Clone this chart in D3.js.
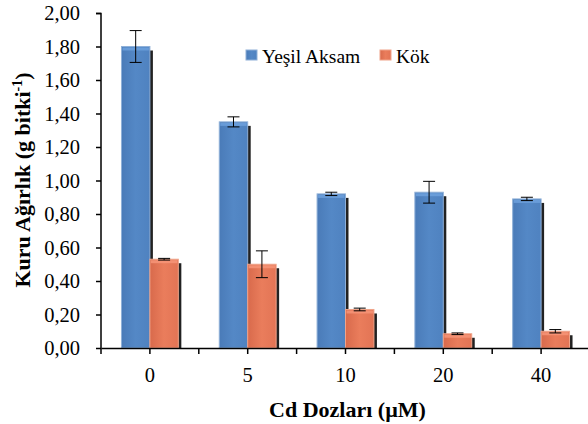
<!DOCTYPE html>
<html>
<head>
<meta charset="utf-8">
<script src="https://cdn.jsdelivr.net/npm/d3@7"></script>
<style>
    body { margin: 0; background: #fff; }
</style>
</head>
<body>
<div id="chart"></div>
<script>
// data
var doses = ["0", "5", "10", "20", "40"];
var seriesNames = ["Yeşil Aksam", "Kök"];
var shootValues = [1.80, 1.35, 0.92, 0.93, 0.89];
var shootErrors = [0.095, 0.03, 0.01, 0.065, 0.01];
var rootValues = [0.53, 0.50, 0.23, 0.085, 0.10];
var rootErrors = [0.005, 0.08, 0.008, 0.005, 0.01];
var yTicks = [0, 0.2, 0.4, 0.6, 0.8, 1.0, 1.2, 1.4, 1.6, 1.8, 2.0];

var svgWidth = 588;
var svgHeight = 424;
var serif = "\"Liberation Serif\"";

var margin = {
    top: 13,
    right: -2,
    bottom: 76,
    left: 101
};

var chartWidth = svgWidth - margin.left - margin.right;
var chartHeight = svgHeight - margin.top - margin.bottom;

var svg = d3.select("#chart")
    .append("svg")
    .attr("width", svgWidth)
    .attr("height", svgHeight);

var defs = svg.append("defs");

function addGradient(id, c1, c2, c3) {
    var g = defs.append("linearGradient")
        .attr("id", id)
        .attr("x1", "0").attr("x2", "1").attr("y1", "0").attr("y2", "0");
    g.append("stop").attr("offset", "0%").attr("stop-color", c1);
    g.append("stop").attr("offset", "50%").attr("stop-color", c2);
    g.append("stop").attr("offset", "100%").attr("stop-color", c3);
}
addGradient("gradBlue", "#4a7bb8", "#5488c6", "#4f82c0");
addGradient("gradOrange", "#d86a4c", "#ea7d5c", "#e27455");

var colors = ["url(#gradBlue)", "url(#gradOrange)"];
var strokes = ["#8fb0d8", "#f0a48a"];
var topColors = ["#6fa3df", "#f7977a"];

var chartGroup = svg.append("g")
    .attr("transform", `translate(${margin.left}, ${margin.top})`);

var x0 = d3.scaleBand()
    .domain(doses)
    .range([0, chartWidth])
    .padding(0);

var x1 = d3.scaleBand()
    .domain(seriesNames)
    .range([0, x0.bandwidth()])
    .paddingInner(0)
    .paddingOuter(0.72);

var y = d3.scaleLinear()
    .domain([0, 2])
    .range([chartHeight, 0]);

var rows = doses.map(function(d, i) {
    return {
        dose: d,
        values: [
            { name: seriesNames[0], value: shootValues[i], err: shootErrors[i], s: 0 },
            { name: seriesNames[1], value: rootValues[i], err: rootErrors[i], s: 1 }
        ]
    };
});

var groups = chartGroup.selectAll(".grp")
    .data(rows)
    .enter()
    .append("g")
    .attr("class", "grp")
    .attr("transform", d => `translate(${x0(d.dose)}, 0)`);

// dark shadow on the right of each bar
groups.selectAll(".shadow")
    .data(d => d.values)
    .enter()
    .append("rect")
    .attr("x", d => x1(d.name) + x1.bandwidth() - 1)
    .attr("y", d => y(d.value) + 4)
    .attr("width", 4)
    .attr("height", d => chartHeight - y(d.value) - 4)
    .attr("fill", "#222");

groups.selectAll(".bar")
    .data(d => d.values)
    .enter()
    .append("rect")
    .attr("x", d => x1(d.name))
    .attr("y", d => y(d.value))
    .attr("width", x1.bandwidth())
    .attr("height", d => chartHeight - y(d.value))
    .attr("fill", d => colors[d.s])
    .attr("stroke", d => strokes[d.s])
    .attr("stroke-width", 1);

groups.selectAll(".bartop")
    .data(d => d.values)
    .enter()
    .append("rect")
    .attr("x", d => x1(d.name) + 1)
    .attr("y", d => y(d.value) + 1)
    .attr("width", x1.bandwidth() - 2)
    .attr("height", 3)
    .attr("fill", d => topColors[d.s])
    .attr("opacity", 0.8);

// error bars
var errG = groups.selectAll(".err")
    .data(d => d.values)
    .enter()
    .append("g")
    .attr("stroke", "#000")
    .attr("stroke-width", 1);

errG.append("line")
    .attr("x1", d => x1(d.name) + x1.bandwidth() / 2)
    .attr("x2", d => x1(d.name) + x1.bandwidth() / 2)
    .attr("y1", d => y(d.value + d.err))
    .attr("y2", d => y(d.value - d.err));
errG.append("line")
    .attr("x1", d => x1(d.name) + x1.bandwidth() / 2 - 6)
    .attr("x2", d => x1(d.name) + x1.bandwidth() / 2 + 6)
    .attr("y1", d => y(d.value + d.err))
    .attr("y2", d => y(d.value + d.err));
errG.append("line")
    .attr("x1", d => x1(d.name) + x1.bandwidth() / 2 - 6)
    .attr("x2", d => x1(d.name) + x1.bandwidth() / 2 + 6)
    .attr("y1", d => y(d.value - d.err))
    .attr("y2", d => y(d.value - d.err));

// axes
var leftAxis = d3.axisLeft(y)
    .tickValues(yTicks)
    .tickSize(5)
    .tickPadding(16)
    .tickFormat(d => d3.format(".2f")(d).replace(".", ","));

var yAxisG = chartGroup.append("g")
    .call(leftAxis)
    .attr("font-family", null)
    .attr("font-size", null);
yAxisG.select(".domain").attr("stroke-width", 1.5).attr("d", `M-5,0.5H0V${chartHeight}`);
yAxisG.selectAll("line").attr("stroke-width", 1.5);
yAxisG.selectAll("text")
    .style("font-size", "20.5px")
    .style("font-family", serif)
    .attr("fill", "#000");

var bottomAxis = d3.axisBottom(x0)
    .tickSize(6)
    .tickPadding(13)
    .tickSizeOuter(0);

var xAxisG = chartGroup.append("g")
    .attr("transform", `translate(0, ${chartHeight})`)
    .call(bottomAxis)
    .attr("font-family", null)
    .attr("font-size", null);
xAxisG.select(".domain").attr("stroke-width", 1.5);
xAxisG.selectAll("line").attr("stroke-width", 1.5);
xAxisG.selectAll("text")
    .style("font-size", "20.5px")
    .style("font-family", serif)
    .attr("fill", "#000");

// tick marks on category boundaries
xAxisG.selectAll(".bound")
    .data(doses)
    .enter()
    .append("line")
    .attr("x1", d => x0(d))
    .attr("x2", d => x0(d))
    .attr("y1", 0)
    .attr("y2", 6)
    .attr("stroke", "#000")
    .attr("stroke-width", 1.5);

// axis titles
var yTitle = chartGroup.append("text")
    .attr("transform", "rotate(-90)")
    .attr("x", 0 - 167)
    .attr("y", -71)
    .attr("text-anchor", "middle")
    .style("font-family", serif)
    .style("font-size", "22px")
    .style("font-weight", "bold");
yTitle.append("tspan").text("Kuru Ağırlık (g bitki");
yTitle.append("tspan").attr("dy", -8).style("font-size", "14px").text("-1");
yTitle.append("tspan").attr("dy", 8).text(")");

chartGroup.append("text")
    .attr("x", chartWidth / 2 + 2)
    .attr("y", chartHeight + 69)
    .attr("text-anchor", "middle")
    .style("font-family", serif)
    .style("font-size", "22px")
    .style("font-weight", "bold")
    .text("Cd Dozları (µM)");

// legend
var legendItems = [
    { name: seriesNames[0], x: 246, s: 0 },
    { name: seriesNames[1], x: 380, s: 1 }
];
var legend = svg.selectAll(".legend")
    .data(legendItems)
    .enter()
    .append("g")
    .attr("transform", d => `translate(${d.x}, 50)`);

legend.append("rect")
    .attr("width", 11)
    .attr("height", 10)
    .attr("fill", d => colors[d.s])
    .attr("stroke", d => strokes[d.s]);

legend.append("text")
    .attr("x", 16)
    .attr("y", 13)
    .style("font-family", serif)
    .style("font-size", "19.5px")
    .text(d => d.name);
</script>
</body>
</html>
